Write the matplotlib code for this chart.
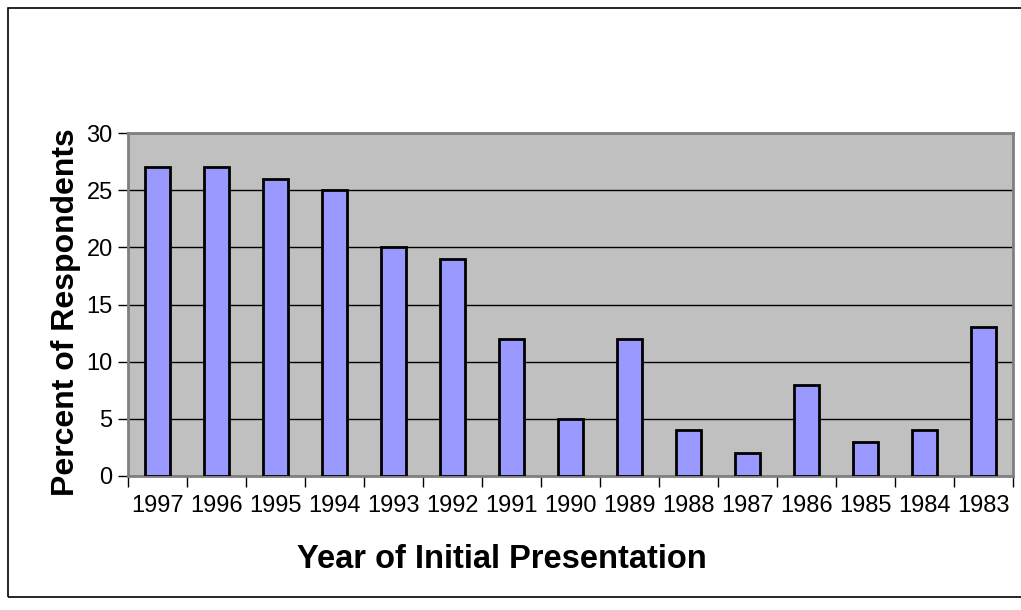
import matplotlib.pyplot as plt
from matplotlib.patches import Rectangle
import numpy as np

# 数据
years = ['1997', '1996', '1995', '1994', '1993', '1992', '1991', '1990',
         '1989', '1988', '1987', '1986', '1985', '1984', '1983']
percent = [27, 27, 26, 25, 20, 19, 12, 5, 12, 4, 2, 8, 3, 4, 13]

plt.rcParams['font.family'] = ['Liberation Sans', 'DejaVu Sans']

fig = plt.figure(figsize=(10.21, 6.10), dpi=100)
ax = fig.add_axes([128 / 1021, 1 - 476 / 610, 885 / 1021, 343 / 610])
ax.set_facecolor('#c0c0c0')

x = np.arange(len(years))
ax.bar(x, percent, width=0.42, color='#9999ff', edgecolor='black',
       linewidth=2, zorder=3)

ax.set_xlim(-0.5, len(years) - 0.5)
ax.set_ylim(0, 30)
ax.set_yticks(range(0, 31, 5))
ax.yaxis.grid(True, color='black', linewidth=1, zorder=1)
ax.set_axisbelow(True)

# x 轴刻度在类别边界，标签在类别中心
ax.set_xticks(np.arange(-0.5, len(years), 1))
ax.set_xticklabels([])
ax.set_xticks(x, minor=True)
ax.set_xticklabels(years, minor=True, fontsize=17)
ax.tick_params(axis='x', which='minor', length=0, pad=14)
ax.tick_params(axis='x', which='major', length=8, width=1, color='black')
ax.tick_params(axis='y', length=7, width=1, labelsize=17, pad=4)

for s in ['top', 'right', 'left', 'bottom']:
    ax.spines[s].set_color('#808080')
    ax.spines[s].set_linewidth(2)

ax.set_ylabel('Percent of Respondents', fontsize=23, fontweight='bold')
ax.yaxis.set_label_coords(-0.0531, 0.478)
fig.text(502 / 1021, 1 - 559 / 610, 'Year of Initial Presentation',
         fontsize=23.5, fontweight='bold', ha='center', va='center')

# 外框
fig.patches.append(Rectangle((8 / 1021, 1 - 597 / 610), 1.05, 589 / 610,
                             transform=fig.transFigure, fill=False,
                             edgecolor='black', linewidth=1.2))

plt.savefig('out.png', dpi=100)
